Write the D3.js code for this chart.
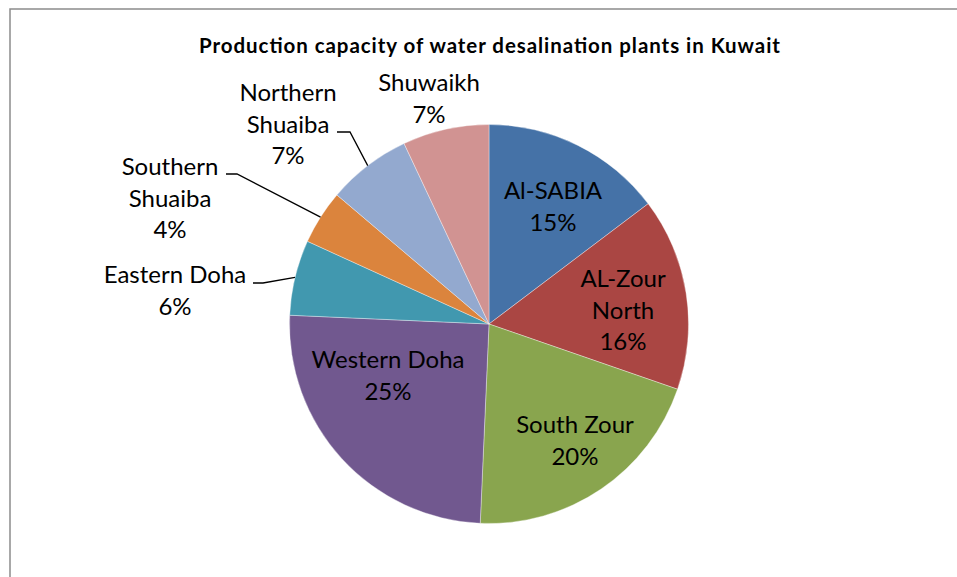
<!DOCTYPE html>
<html>
<head>
<meta charset="utf-8">
<script src="https://cdn.jsdelivr.net/npm/d3@7"></script>
<style>
  html, body { margin: 0; padding: 0; background: #fff; }
  svg { display: block; }
</style>
</head>
<body>
<svg id="chart" width="957" height="577"></svg>
<script>
// ---- data ----
const categories = ["Al-SABIA", "AL-Zour North", "South Zour", "Western Doha", "Eastern Doha", "Southern Shuaiba", "Northern Shuaiba", "Shuwaikh"];
const values = [14.7, 15.6, 20.4, 25.0, 6.1, 4.4, 6.8, 7.0];
const labelLines = [["Al-SABIA"], ["AL-Zour", "North"], ["South Zour"], ["Western Doha"], ["Eastern Doha"], ["Southern", "Shuaiba"], ["Northern", "Shuaiba"], ["Shuwaikh"]];
const colors = ["#4572A7", "#AA4643", "#89A54E", "#71588F", "#4198AF", "#DB843D", "#93A9CF", "#D19392"];
const title = "Production capacity of water desalination plants in Kuwait";

// ---- layout (label placement, not data) ----
const labelPos = [
  {x: 553, y: 199},
  {x: 623, y: 287},
  {x: 575, y: 433},
  {x: 388, y: 368},
  {x: 175, y: 283, leader: {x1: 253, x2: 263, y: 283}},
  {x: 170, y: 175, leader: {x1: 226, x2: 237, y: 174}},
  {x: 288, y: 101, leader: {x1: 337, x2: 350, y: 132}},
  {x: 429, y: 91}
];
const lineH = 31.5;

const svg = d3.select("#chart");
const W = 957, H = 577;
const cx = 489, cy = 324, R = 199.5;

// frame
svg.append("rect")
  .attr("x", 10).attr("y", 9)
  .attr("width", W + 20).attr("height", H + 20)
  .attr("fill", "none").attr("stroke", "#8c8c8c").attr("stroke-width", 1.5);

// title
svg.append("text")
  .attr("x", 489.5).attr("y", 53)
  .attr("text-anchor", "middle")
  .attr("font-family", "Lato, 'Open Sans', sans-serif")
  .attr("font-weight", "bold")
  .attr("font-size", 20.5)
  .attr("textLength", 581)
  .attr("lengthAdjust", "spacing")
  .attr("fill", "#000")
  .text(title);

const pie = d3.pie().sort(null).value(d => d)(values);
const arc = d3.arc().innerRadius(0).outerRadius(R);
const edgeArc = d3.arc().innerRadius(R).outerRadius(R);

const g = svg.append("g").attr("transform", `translate(${cx},${cy})`);
g.selectAll("path.slice")
  .data(pie)
  .join("path")
  .attr("class", "slice")
  .attr("d", arc)
  .attr("fill", (d, i) => colors[i])
  .attr("stroke", "#ffffff")
  .attr("stroke-opacity", 0.6)
  .attr("stroke-width", 0.6);

// leader lines
pie.forEach((d, i) => {
  const lp = labelPos[i];
  if (!lp.leader) return;
  const c = edgeArc.centroid(d);
  const px = cx + c[0], py = cy + c[1];
  svg.append("path")
    .attr("d", d3.line()([[lp.leader.x1, lp.leader.y], [lp.leader.x2, lp.leader.y], [px, py]]))
    .attr("fill", "none")
    .attr("stroke", "#000")
    .attr("stroke-width", 1.3);
});

// labels
const total = d3.sum(values);
pie.forEach((d, i) => {
  const lp = labelPos[i];
  const lines = labelLines[i].concat([Math.round(values[i] / total * 100) + "%"]);
  const t = svg.append("text")
    .attr("text-anchor", "middle")
    .attr("font-family", "Lato, 'Open Sans', sans-serif")
    .attr("font-size", 24)
    .attr("fill", "#000");
  lines.forEach((ln, k) => {
    t.append("tspan").attr("x", lp.x).attr("y", lp.y + k * lineH).text(ln);
  });
});
</script>
</body>
</html>
